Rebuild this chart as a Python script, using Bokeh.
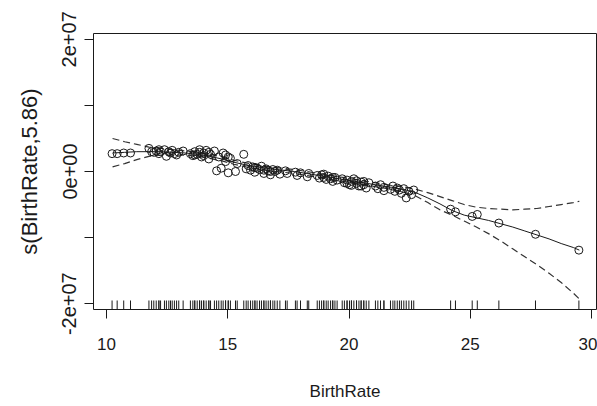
from bokeh.plotting import figure
from bokeh.models import FixedTicker, Range1d, ColumnDataSource
from bokeh.embed import file_html
from bokeh.resources import INLINE

# ---- data (y values in units of 1e7) ----
birth_rate = [
    10.23, 10.44, 10.71, 10.99, 11.75, 11.86, 11.95, 12.05, 12.16, 12.23,
    12.39, 12.47, 12.57, 12.64, 12.71, 12.80, 12.89, 12.98, 13.16, 13.46,
    13.56, 13.64, 13.74, 13.84, 13.92, 14.01, 14.11, 14.22, 14.29, 14.45,
    14.54, 14.63, 14.73, 14.81, 14.91, 15.02, 15.11, 15.32, 15.39, 15.66,
    15.76, 15.84, 15.94, 16.03, 16.12, 16.21, 16.31, 16.39, 16.49, 16.58,
    16.67, 16.76, 16.86, 16.94, 17.04, 17.15, 17.38, 17.45, 17.79, 17.86,
    18.00, 18.28, 18.34, 18.69, 18.78, 18.87, 18.96, 19.06, 19.14, 19.24,
    19.33, 19.42, 19.51, 19.72, 19.81, 19.92, 20.02, 20.10, 20.20, 20.31,
    20.41, 20.50, 20.61, 20.71, 20.82, 21.09, 21.19, 21.30, 21.44, 21.71,
    21.81, 21.89, 21.99, 22.08, 22.16, 22.26, 22.36, 22.47, 22.58, 22.67,
    24.19, 24.39, 25.08, 25.29, 26.18, 27.69, 29.48,
    13.64, 13.84, 14.01, 14.22, 16.12, 16.49, 16.76, 19.92, 20.10, 20.31,
    20.50, 20.61, 19.33, 18.96, 21.44, 12.16, 14.91, 15.02,
]
partial_resid = [
    0.27, 0.27, 0.28, 0.28, 0.35, 0.30, 0.29, 0.31, 0.27, 0.30,
    0.33, 0.23, 0.30, 0.28, 0.32, 0.27, 0.25, 0.29, 0.31, 0.27,
    0.24, 0.30, 0.26, 0.29, 0.22, 0.28, 0.32, 0.19, 0.26, 0.31,
    0.01, 0.22, 0.05, 0.28, 0.15, -0.02, 0.20, 0.00, 0.12, 0.26,
    0.04, 0.09, 0.02, 0.07, -0.01, 0.05, 0.03, 0.08, -0.03, 0.04,
    0.01, -0.05, 0.03, 0.00, 0.02, -0.04, 0.01, -0.03, -0.01, -0.06,
    -0.02, -0.08, -0.03, -0.06, -0.10, -0.05, -0.09, -0.12, -0.07, -0.11,
    -0.15, -0.09, -0.13, -0.11, -0.17, -0.13, -0.20, -0.15, -0.11, -0.18,
    -0.22, -0.16, -0.20, -0.25, -0.17, -0.22, -0.26, -0.20, -0.24, -0.27,
    -0.22, -0.30, -0.25, -0.28, -0.33, -0.26, -0.40, -0.30, -0.35, -0.28,
    -0.57, -0.61, -0.68, -0.65, -0.78, -0.95, -1.19,
    0.25, 0.33, 0.24, 0.29, 0.06, 0.02, 0.00, -0.18, -0.21, -0.14,
    -0.22, -0.15, -0.09, -0.04, -0.29, 0.33, 0.25, 0.22,
]

grid_x = [10.25, 10.75, 11.25, 11.75, 12.25, 12.75, 13.25, 13.75, 14.25, 14.75,
          15.25, 15.75, 16.25, 16.75, 17.25, 17.75, 18.25, 18.75, 19.25, 19.75,
          20.25, 20.75, 21.25, 21.75, 22.25, 22.75, 23.25, 23.75, 24.25, 24.75,
          25.25, 25.75, 26.25, 26.75, 27.25, 27.75, 28.25, 28.75, 29.25, 29.5]
fit = [0.28, 0.29, 0.30, 0.30, 0.30, 0.29, 0.28, 0.26, 0.23, 0.19,
       0.14, 0.10, 0.07, 0.04, 0.02, 0.00, -0.03, -0.06, -0.09, -0.12,
       -0.15, -0.18, -0.21, -0.24, -0.27, -0.32, -0.40, -0.49, -0.59, -0.66,
       -0.70, -0.74, -0.79, -0.84, -0.90, -0.96, -1.02, -1.09, -1.15, -1.19]
upper = [0.50, 0.45, 0.41, 0.37, 0.35, 0.33, 0.31, 0.29, 0.26, 0.22,
         0.17, 0.13, 0.10, 0.07, 0.05, 0.03, 0.00, -0.03, -0.06, -0.09,
         -0.12, -0.15, -0.18, -0.21, -0.23, -0.27, -0.32, -0.38, -0.44, -0.50,
         -0.54, -0.56, -0.57, -0.58, -0.57, -0.56, -0.53, -0.50, -0.47, -0.45]
lower = [0.07, 0.12, 0.18, 0.23, 0.25, 0.25, 0.25, 0.23, 0.20, 0.16,
         0.11, 0.07, 0.04, 0.01, -0.01, -0.03, -0.06, -0.09, -0.12, -0.15,
         -0.18, -0.21, -0.24, -0.27, -0.31, -0.37, -0.47, -0.58, -0.66, -0.75,
         -0.84, -0.94, -1.05, -1.17, -1.29, -1.41, -1.54, -1.68, -1.84, -1.93]

x_ticks = [10, 15, 20, 25, 30]
y_ticks = [-2, -1, 0, 1, 2]
y_tick_labels = ["-2e+07", "", "0e+00", "", "2e+07"]
x_title = "BirthRate"
y_title = "s(BirthRate,5.86)"

FONT = "Liberation Sans"
INK = "#1a1a1a"

x_lo, x_hi = 9.464, 30.206
y_lo, y_hi = -2.088, 2.088

p = figure(width=597, height=406, output_backend="svg", toolbar_location=None,
           x_range=Range1d(x_lo, x_hi), y_range=Range1d(y_lo, y_hi),
           min_border_left=93, min_border_right=1, min_border_top=33,
           min_border_bottom=97)
p.background_fill_color = "white"
p.border_fill_color = "white"
p.outline_line_color = INK
p.outline_line_width = 1
p.grid.visible = False

# smooth and confidence band
p.line(grid_x, upper, line_color="#333333", line_width=1.2, line_dash="7 4")
p.line(grid_x, lower, line_color="#333333", line_width=1.2, line_dash="7 4")
p.line(grid_x, fit, line_color=INK, line_width=1)

# partial residuals
src = ColumnDataSource(dict(x=birth_rate, y=partial_resid))
p.scatter("x", "y", source=src, marker="circle", size=8,
          fill_color=None, line_color=INK, line_width=1)

# rug
rug_len = 9 / 66.08
p.segment(x0=birth_rate, y0=[y_lo] * len(birth_rate),
          x1=birth_rate, y1=[y_lo + rug_len] * len(birth_rate),
          line_color=INK, line_width=1)

# axes
xa = p.xaxis[0]
xa.ticker = FixedTicker(ticks=x_ticks)
ya = p.yaxis[0]
ya.ticker = FixedTicker(ticks=y_ticks)
ya.major_label_overrides = {t: l for t, l in zip(y_ticks, y_tick_labels)}
ya.major_label_orientation = "vertical"

for ax in (xa, ya):
    ax.axis_line_color = None
    ax.major_tick_line_color = INK
    ax.major_tick_line_width = 1
    ax.major_tick_in = 0
    ax.major_tick_out = 9
    ax.minor_tick_line_color = None
    ax.major_label_text_font = FONT
    ax.major_label_text_color = INK
    ax.axis_label_text_font = FONT
    ax.axis_label_text_font_style = "normal"
    ax.axis_label_text_color = INK

xa.axis_label = x_title
xa.major_label_text_font_size = "17px"
xa.axis_label_text_font_size = "17px"
xa.major_label_standoff = 19
xa.axis_label_standoff = 29

ya.axis_label = y_title
ya.major_label_text_font_size = "20px"
ya.axis_label_text_font_size = "22px"
ya.major_label_standoff = 8
ya.axis_label_standoff = 18

open("out.html", "w").write(file_html(p, INLINE))
